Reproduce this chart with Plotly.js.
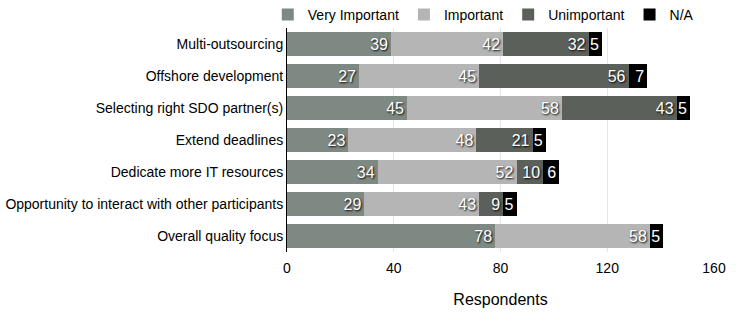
<!DOCTYPE html>
<html><head><meta charset="utf-8">
<script src="https://cdn.plot.ly/plotly-3.0.1.min.js"></script>
<style>body{margin:0;background:#fff}#c{width:745px;height:315px}</style>
</head><body><div id="c"></div>
<script>
const categories = ["Multi-outsourcing","Offshore development","Selecting right SDO partner(s)","Extend deadlines","Dedicate more IT resources","Opportunity to interact with other participants","Overall quality focus"];
const veryImportant = [39,27,45,23,34,29,78];
const important = [42,45,58,48,52,43,58];
const unimportant = [32,56,43,21,10,9,0];
const na = [5,7,5,5,6,5,5];
const seriesNames = ["Very Important","Important","Unimportant","N/A"];
const colors = ["#7f8983","#b5b5b5","#5b605a","#000000"];
const all = [veryImportant, important, unimportant, na];
const F = '"Liberation Sans Narrow", "Liberation Sans", Arial, sans-serif';
const traces = all.map((vals,i)=>({
  type:'bar', orientation:'h', name:seriesNames[i], y:categories, x:vals,
  marker:{color:colors[i]}, width:0.72,
  text: vals.map(v=>v>0?String(v):''), textposition:'inside', insidetextanchor:'end', textangle:0,
  textfont:{family:F, size:16, color:'#ffffff', shadow:'1px 1px 2px #000'},
  constraintext:'none', cliponaxis:false, hoverinfo:'none'
}));
Plotly.newPlot('c', traces, {
  barmode:'stack', width:745, height:315,
  margin:{l:287,r:31,t:28,b:63, autoexpand:false},
  paper_bgcolor:'#fff', plot_bgcolor:'#fff',
  font:{family:F, size:14, color:'#000'},
  bargap:0.28,
  xaxis:{range:[0,160], tickvals:[0,40,80,120,160], showgrid:true, gridcolor:'#e6e6e6', gridwidth:1,
    zeroline:false, showline:false, ticks:'outside', ticklen:3, tickcolor:'rgba(0,0,0,0)', tickfont:{family:F,size:14},
    title:{text:'Respondents', font:{family:F,size:16}, standoff:19}},
  yaxis:{autorange:'reversed', showline:true, linecolor:'#000', linewidth:1, ticks:'', ticklen:0,
    tickfont:{family:F,size:14}, showgrid:false, automargin:false},
  legend:{orientation:'h', x:-0.045, xanchor:'left', y:1.058, yanchor:'middle', font:{family:F,size:14}, traceorder:'normal', bgcolor:'rgba(0,0,0,0)'},
  showlegend:true
}, {staticPlot:true});
</script></body></html>
